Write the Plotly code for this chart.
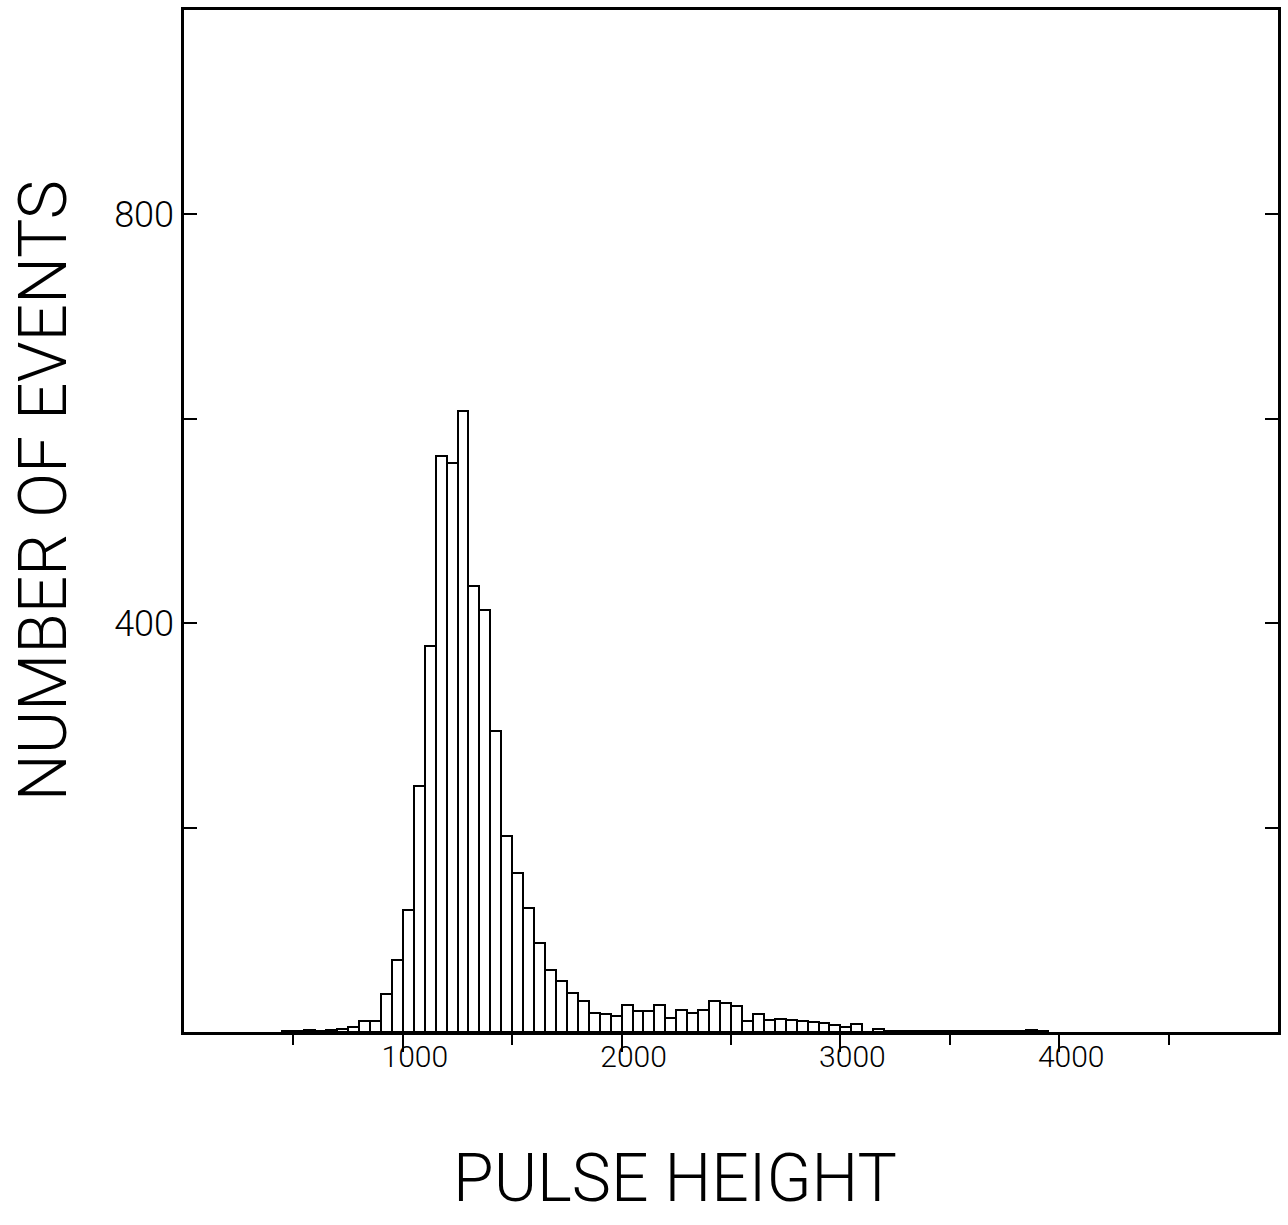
import plotly.graph_objects as go

# Histogram bins (left edge of each 50-unit bin) and counts
bin_start = [450, 500, 550, 600, 650, 700, 750, 800, 850, 900,
             950, 1000, 1050, 1100, 1150, 1200, 1250, 1300, 1350, 1400,
             1450, 1500, 1550, 1600, 1650, 1700, 1750, 1800, 1850, 1900,
             1950, 2000, 2050, 2100, 2150, 2200, 2250, 2300, 2350, 2400,
             2450, 2500, 2550, 2600, 2650, 2700, 2750, 2800, 2850, 2900,
             2950, 3000, 3050, 3100, 3150, 3200, 3250, 3300, 3350, 3400,
             3450, 3500, 3550, 3600, 3650, 3700, 3750, 3800, 3850, 3900]
counts = [1, 1, 2, 1, 2, 3, 5, 11, 11, 37,
          70, 119, 241, 378, 564, 557, 608, 436, 413, 295,
          192, 156, 121, 87, 61, 50, 38, 30, 19, 18,
          16, 26, 21, 21, 26, 14, 22, 19, 22, 30,
          28, 25, 11, 18, 12, 13, 12, 11, 10, 9,
          7, 5, 8, 0, 3, 1, 1, 1, 1, 1,
          1, 1, 1, 1, 1, 1, 1, 1, 2, 1]
bin_width = 50

x_major = [1000, 2000, 3000, 4000]
x_major_text = ["1000", "2000", "3000", "4000"]
x_minor = [500, 1500, 2500, 3500, 4500]
y_ticks = [200, 400, 600, 800]
y_tick_text = ["", "400", "", "800"]

FONT = "Roboto, Liberation Sans, Arial"

fig = go.Figure()
fig.add_trace(go.Bar(
    x=bin_start, y=counts, width=bin_width, offset=0,
    marker=dict(color="white", line=dict(color="black", width=2)),
    showlegend=False,
))

fig.update_layout(
    width=1288, height=1225,
    margin=dict(l=184, r=7, t=9, b=193),
    paper_bgcolor="white", plot_bgcolor="white",
    bargap=0,
    font=dict(family=FONT, color="black", weight=300),
)

fig.update_xaxes(
    range=[0, 5000], showgrid=False, zeroline=False,
    showline=True, linecolor="black", linewidth=2.5, mirror=True,
    tickmode="array", tickvals=x_major, ticktext=x_major_text,
    ticks="outside", ticklen=17, tickwidth=1.5, tickcolor="black",
    tickfont=dict(size=30, family=FONT, weight=300),
    ticklabelshift=12, ticklabelstandoff=-21,
    minor=dict(tickmode="array", tickvals=x_minor, ticks="outside",
               ticklen=10, tickwidth=1.5, tickcolor="black"),
)

fig.update_yaxes(
    range=[0, 1000], showgrid=False, zeroline=False,
    showline=True, linecolor="black", linewidth=2.5, mirror="ticks",
    tickmode="array", tickvals=y_ticks, ticktext=y_tick_text,
    ticks="inside", ticklen=13, tickwidth=2, tickcolor="black",
    tickfont=dict(size=36, family=FONT, weight=300),
)

fig.add_annotation(
    text="NUMBER OF EVENTS", xref="paper", yref="paper",
    x=-0.129, y=0.53, textangle=-90, showarrow=False,
    font=dict(size=66, family=FONT, color="black", weight=300),
    xanchor="center", yanchor="middle",
)
fig.add_annotation(
    text="PULSE HEIGHT", xref="paper", yref="paper",
    x=0.449, y=-0.143, showarrow=False,
    font=dict(size=66, family=FONT, color="black", weight=300),
    xanchor="center", yanchor="middle",
)

fig.write_html("out.html")
